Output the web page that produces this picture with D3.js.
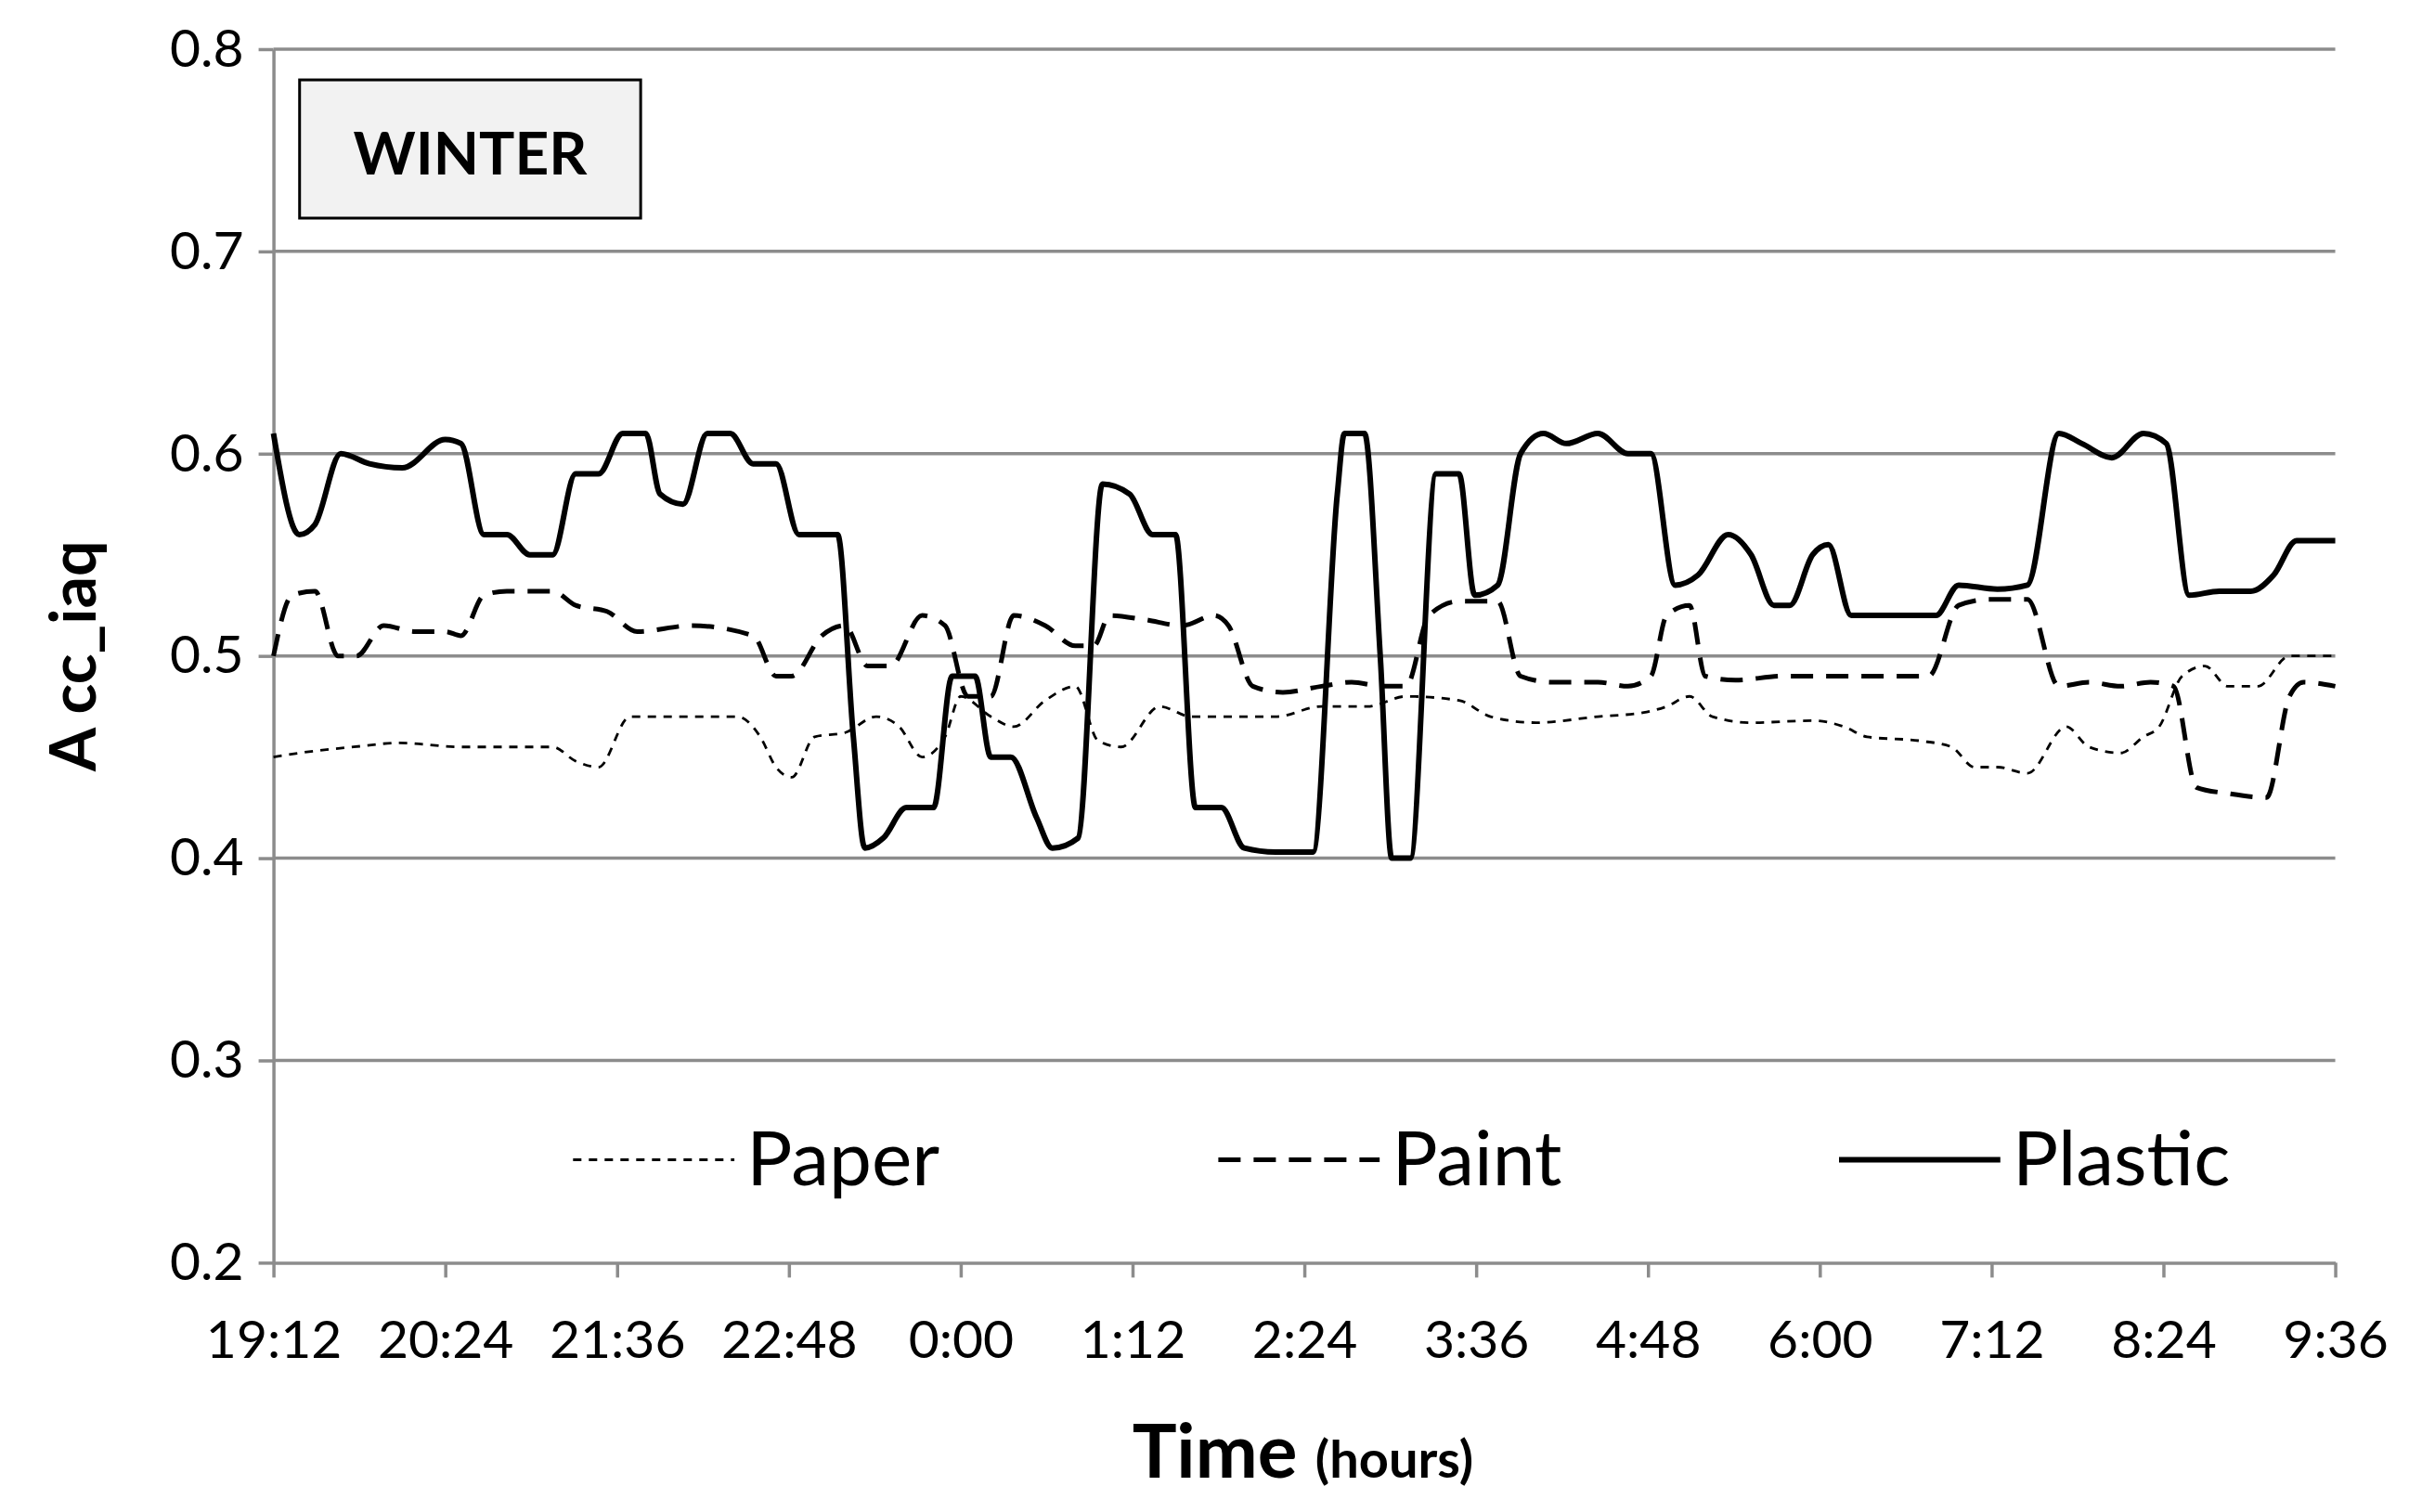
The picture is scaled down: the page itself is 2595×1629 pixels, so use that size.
<!DOCTYPE html>
<html>
<meta charset="utf-8">
<head>
<script src="https://cdn.jsdelivr.net/npm/d3@7"></script>
<style>
  body { margin: 0; background: #fff; }
  text { font-family: Lato, "Open Sans", sans-serif; fill: #000; }
</style>
</head>
<body>
<script>
// hours after 19:12, value
var tickLabels = ["19:12","20:24","21:36","22:48","0:00","1:12","2:24","3:36","4:48","6:00","7:12","8:24","9:36"];
var yTicks = [0.2, 0.3, 0.4, 0.5, 0.6, 0.7, 0.8];

var paperT = [0,0.18,0.56,0.88,1.31,1.95,2.11,2.27,2.49,2.81,3.24,3.40,3.51,3.62,3.78,3.99,4.21,4.37,4.53,4.69,4.80,5.01,5.17,5.39,5.60,5.76,5.92,6.19,6.41,7.00,7.32,7.64,7.91,8.28,8.50,8.82,9.25,9.57,9.73,9.89,10.05,10.32,10.75,10.97,11.13,11.50,11.72,11.88,12.04,12.25,12.52,12.68,12.90,13.06,13.17,13.33,13.49,13.65,13.86,14.08,14.40];
var paperV = [0.45,0.452,0.455,0.457,0.455,0.455,0.448,0.445,0.47,0.47,0.47,0.46,0.445,0.44,0.46,0.462,0.47,0.465,0.45,0.46,0.48,0.47,0.465,0.478,0.485,0.458,0.455,0.475,0.47,0.47,0.475,0.475,0.48,0.478,0.47,0.467,0.47,0.472,0.475,0.48,0.47,0.467,0.468,0.465,0.46,0.458,0.455,0.445,0.445,0.442,0.465,0.455,0.452,0.46,0.465,0.49,0.495,0.485,0.485,0.5,0.5];

var paintT = [0,0.13,0.29,0.45,0.58,0.77,0.99,1.20,1.31,1.47,1.63,1.95,2.11,2.33,2.54,2.92,3.35,3.51,3.62,3.83,3.99,4.15,4.31,4.53,4.69,4.85,5.01,5.17,5.39,5.60,5.73,5.84,6.08,6.35,6.57,6.67,6.84,7.05,7.32,7.53,7.75,7.91,8.07,8.28,8.55,8.71,8.93,9.25,9.46,9.62,9.73,9.89,10.00,10.21,10.54,10.97,11.56,11.77,11.99,12.25,12.47,12.68,12.90,13.11,13.27,13.43,13.65,13.92,14.08,14.18,14.40];
var paintV = [0.50,0.53,0.532,0.50,0.50,0.515,0.512,0.512,0.51,0.53,0.532,0.532,0.525,0.522,0.512,0.515,0.51,0.49,0.49,0.51,0.515,0.495,0.495,0.52,0.515,0.48,0.48,0.52,0.515,0.505,0.505,0.52,0.518,0.515,0.52,0.515,0.485,0.482,0.485,0.487,0.485,0.485,0.52,0.527,0.527,0.49,0.487,0.487,0.485,0.49,0.52,0.525,0.49,0.488,0.49,0.49,0.49,0.525,0.528,0.528,0.485,0.487,0.485,0.487,0.485,0.435,0.432,0.43,0.48,0.487,0.485];

var plasticT = [0,0.18,0.29,0.47,0.67,0.90,1.20,1.31,1.47,1.63,1.79,1.95,2.11,2.27,2.44,2.60,2.70,2.86,3.03,3.19,3.35,3.51,3.67,3.94,4.05,4.13,4.26,4.42,4.61,4.74,4.90,5.01,5.15,5.33,5.44,5.62,5.79,5.98,6.14,6.30,6.44,6.62,6.78,7.00,7.26,7.43,7.48,7.62,7.73,7.81,7.94,8.12,8.28,8.39,8.55,8.71,8.87,9.03,9.25,9.46,9.62,9.79,9.95,10.16,10.32,10.48,10.59,10.75,10.86,11.02,11.18,11.61,11.77,12.04,12.25,12.47,12.63,12.84,13.06,13.22,13.38,13.59,13.81,13.97,14.13,14.40];
var plasticV = [0.61,0.56,0.565,0.60,0.595,0.593,0.607,0.605,0.56,0.56,0.55,0.55,0.59,0.59,0.61,0.61,0.58,0.575,0.61,0.61,0.595,0.595,0.56,0.56,0.46,0.405,0.41,0.425,0.425,0.49,0.49,0.45,0.45,0.42,0.405,0.41,0.585,0.58,0.56,0.56,0.425,0.425,0.405,0.403,0.403,0.58,0.61,0.61,0.50,0.40,0.40,0.59,0.59,0.53,0.535,0.60,0.61,0.605,0.61,0.60,0.60,0.535,0.54,0.56,0.55,0.525,0.525,0.55,0.555,0.52,0.52,0.52,0.535,0.533,0.535,0.61,0.605,0.598,0.61,0.605,0.53,0.532,0.532,0.54,0.557,0.557];

var W = 2595, H = 1629, k = 2595 / 1568;
var L = 178 * k, R = 1520 * k, T = 32 * k, B = 822 * k;

var svg = d3.select("body").append("svg").attr("width", W).attr("height", H);
var x = d3.scaleLinear().domain([0, 14.4]).range([L, R]);
var y = d3.scaleLinear().domain([0.2, 0.8]).range([B, T]);

// grid
svg.selectAll(".grid").data(yTicks.slice(1)).enter().append("line")
  .attr("x1", L).attr("x2", R).attr("y1", d => y(d)).attr("y2", d => y(d))
  .attr("stroke", "#8c8c8c").attr("stroke-width", 3.5);

var yAxis = svg.append("g").attr("transform", "translate(" + L + ",0)")
  .call(d3.axisLeft(y).tickValues(yTicks).tickFormat(d3.format(".1f")).tickSize(16).tickSizeOuter(0));
var xAxis = svg.append("g").attr("transform", "translate(0," + B + ")")
  .call(d3.axisBottom(x).tickValues(d3.range(0, 14.41, 1.2)).tickFormat((d, i) => tickLabels[i]).tickSize(16).tickSizeOuter(0));
[yAxis, xAxis].forEach(function (g) {
  g.select(".domain").attr("stroke", "#8c8c8c").attr("stroke-width", 3.5);
  g.selectAll(".tick line").attr("stroke", "#8c8c8c").attr("stroke-width", 3.5);
  g.selectAll(".tick text").style("font-size", "57px").style("font-family", "Lato, sans-serif").attr("fill", "#000");
});
yAxis.selectAll(".tick text").attr("x", -32);
xAxis.selectAll(".tick text").attr("y", 62);

var line = d3.line().x(d => x(d[0])).y(d => y(d[1])).curve(d3.curveMonotoneX);
var series = [
  { name: "Paper", t: paperT, v: paperV, w: 2.8, dash: "9,8" },
  { name: "Paint", t: paintT, v: paintV, w: 5, dash: "24,14" },
  { name: "Plastic", t: plasticT, v: plasticV, w: 6, dash: null }
];
series.forEach(function (s) {
  svg.append("path").datum(s.t.map((t, i) => [t, s.v[i]]))
    .attr("d", line).attr("fill", "none").attr("stroke", "#000")
    .attr("stroke-width", s.w).attr("stroke-dasharray", s.dash);
});

// legend
var legX = [373, 793, 1197];
series.forEach(function (s, i) {
  var lx = legX[i] * k, ly = 755 * k;
  svg.append("line").attr("x1", lx).attr("x2", lx + 105 * k).attr("y1", ly).attr("y2", ly)
    .attr("stroke", "#000").attr("stroke-width", s.w).attr("stroke-dasharray", s.dash);
  svg.append("text").attr("x", lx + 113 * k).attr("y", ly + 27).style("font-size", "82px").text(s.name);
});

// season box
svg.append("rect").attr("x", 195 * k).attr("y", 52 * k).attr("width", 222 * k).attr("height", 90 * k)
  .attr("fill", "#f2f2f2").attr("stroke", "#000").attr("stroke-width", 3);
svg.append("text").attr("x", 306 * k).attr("y", 99 * k).attr("text-anchor", "middle").attr("dominant-baseline", "central")
  .style("font-size", "64px").style("font-weight", "bold").text("WINTER");

// axis titles
svg.append("text").attr("transform", "translate(" + (62 * k) + "," + (427 * k) + ") rotate(-90)")
  .attr("text-anchor", "middle").style("font-size", "68px").style("font-weight", "bold").text("A cc_iaq");
var xt = svg.append("text").attr("x", 848 * k).attr("y", 962 * k).attr("text-anchor", "middle").style("font-weight", "bold");
xt.append("tspan").style("font-size", "80px").text("Time ");
xt.append("tspan").style("font-size", "56px").text("(hours)");
</script>
</body>
</html>
